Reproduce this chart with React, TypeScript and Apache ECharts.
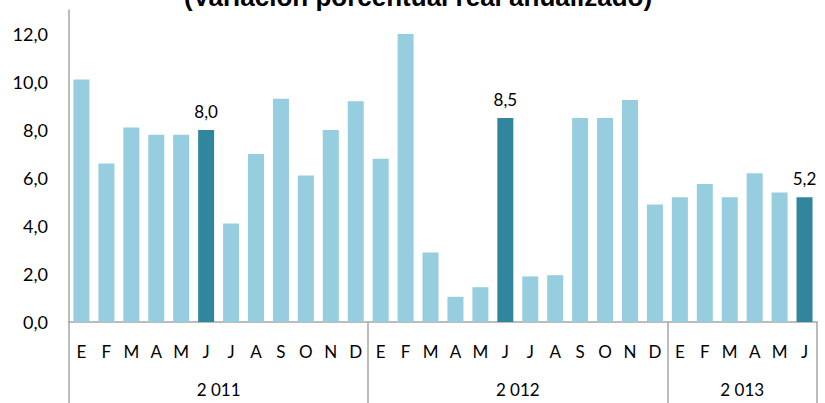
import React, { useEffect, useRef } from "react";
import * as echarts from "echarts";

const title = "(Variación porcentual real anualizado)";
const monthNames = ["E", "F", "M", "A", "M", "J", "J", "A", "S", "O", "N", "D"];
const years = ["2 011", "2 012", "2 013"];
const values2011 = [10.1, 6.6, 8.1, 7.8, 7.8, 8.0, 4.1, 7.0, 9.3, 6.1, 8.0, 9.2];
const values2012 = [6.8, 12.0, 2.9, 1.05, 1.45, 8.5, 1.9, 1.95, 8.5, 8.5, 9.25, 4.9];
const values2013 = [5.2, 5.75, 5.2, 6.2, 5.4, 5.2];
const highlightMonth = 5; // June
const yTicks = [0, 2, 4, 6, 8, 10, 12];

const LIGHT = "#96CDDF";
const DARK = "#31859C";
const AXIS = "#A6A6A6";
const FONT = "Lato, 'Open Sans', sans-serif";

const fmt = (v: number) => v.toFixed(1).replace(".", ",");

export default function App() {
  const ref = useRef<HTMLDivElement>(null);
  useEffect(() => {
    if (!ref.current) return;
    const chart = echarts.init(ref.current, null, { renderer: "svg" });
    const yearSeries = [values2011, values2012, values2013];
    const categories: string[] = [];
    const data: any[] = [];
    const boundaries: number[] = [0];
    const centers: number[] = [];
    yearSeries.forEach((vals) => {
      const start = categories.length;
      vals.forEach((v, mi) => {
        categories.push(monthNames[mi]);
        const hi = mi === highlightMonth;
        data.push({
          value: v,
          itemStyle: { color: hi ? DARK : LIGHT },
          label: { show: hi },
        });
      });
      boundaries.push(categories.length);
      centers.push((start + categories.length) / 2);
    });
    const total = categories.length;

    chart.setOption({
      animation: false,
      title: {
        text: title,
        left: 413,
        textAlign: "center",
        top: -21,
        textStyle: {
          fontFamily: "'Liberation Sans', Arial, sans-serif",
          fontWeight: "bold",
          fontSize: 26,
          color: "#000",
        },
      },
      grid: { left: 69, right: 8, top: 10, bottom: 81, containLabel: false },
      xAxis: [
        {
          type: "category",
          data: categories,
          position: "bottom",
          axisLine: { show: true, lineStyle: { color: AXIS, width: 1.5 } },
          axisTick: { show: false },
          axisLabel: {
            interval: 0,
            margin: 21,
            fontFamily: FONT,
            fontSize: 17,
            color: "#000",
          },
          splitLine: { show: false },
        },
        {
          type: "value",
          min: 0,
          max: total,
          position: "bottom",
          axisLine: { show: false },
          splitLine: { show: false },
          axisTick: {
            show: true,
            customValues: boundaries,
            length: 81,
            lineStyle: { color: AXIS, width: 1.5 },
          },
          axisLabel: {
            customValues: centers,
            margin: 59,
            fontFamily: FONT,
            fontSize: 17,
            color: "#000",
            formatter: (v: number) => {
              const i = centers.indexOf(v);
              return i >= 0 ? years[i] : "";
            },
          },
        },
      ],
      yAxis: {
        type: "value",
        min: 0,
        max: 13,
        interval: 2,
        axisLine: { show: true, lineStyle: { color: AXIS, width: 1.5 } },
        axisTick: { show: false },
        splitLine: { show: false },
        axisLabel: {
          customValues: yTicks,
          margin: 21,
          fontFamily: FONT,
          fontSize: 18,
          color: "#000",
          formatter: (v: number) => fmt(v),
        },
      },
      series: [
        {
          type: "bar",
          xAxisIndex: 0,
          yAxisIndex: 0,
          data,
          barWidth: 16,
          label: {
            position: "top",
            distance: 10,
            fontFamily: FONT,
            fontSize: 17,
            color: "#000",
            formatter: (p: any) => fmt(p.value),
          },
        },
      ],
    });
    return () => chart.dispose();
  }, []);
  return <div ref={ref} style={{ width: 825, height: 403, position: "absolute", left: 0, top: 0 }} />;
}
